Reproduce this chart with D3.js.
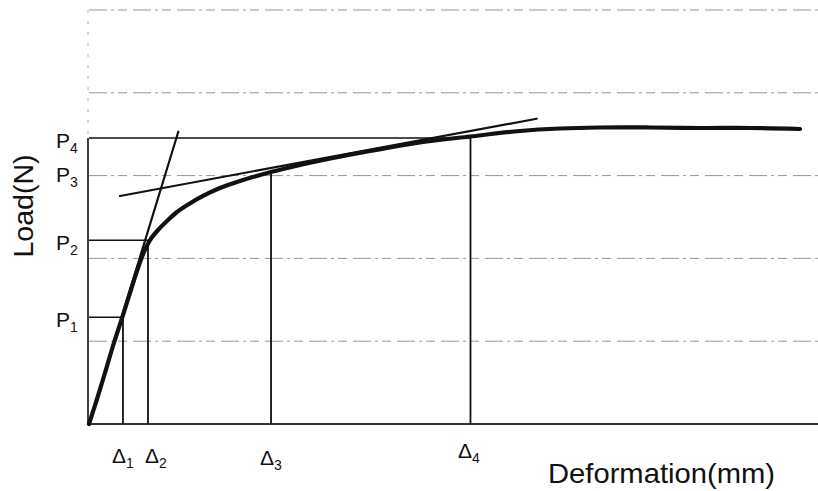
<!DOCTYPE html>
<html>
<head>
<meta charset="utf-8">
<script src="https://cdn.jsdelivr.net/npm/d3@7"></script>
<style>
  html, body { margin: 0; padding: 0; background: #fff; }
  svg { display: block; }
  text { font-family: "Liberation Sans", Arial, Helvetica, sans-serif; fill: #111; }
</style>
</head>
<body>
<svg id="chart" width="818" height="491"></svg>
<script>
// ---------------- DATA ----------------
// Load-deformation curve (deformation, load) in arbitrary chart units
const curveX = [0, 1.10, 2.19, 3.29, 4.53, 5.62, 6.72, 7.54, 8.37, 9.47, 10.70, 12.07, 13.72, 15.64, 17.97, 20.71, 24.97, 28.94, 33.47, 38.55, 45.40, 52.26, 59.12, 64.61, 70.10, 76.95, 83.81, 90.67, 97.53];
const curveY = [0, 0.302, 0.616, 0.942, 1.280, 1.582, 1.884, 2.077, 2.222, 2.343, 2.452, 2.560, 2.657, 2.754, 2.850, 2.935, 3.043, 3.128, 3.213, 3.297, 3.400, 3.472, 3.539, 3.569, 3.581, 3.581, 3.575, 3.575, 3.563];
// Tangent lines [x0, y0, x1, y1]
const tangent1 = [0, 0, 12.25, 3.53];
const tangent2 = [4.25, 2.754, 61.41, 3.687];
// Characteristic points
const pointLabels = ["1", "2", "3", "4"];
const deltaValues = [4.66, 8.09, 24.97, 52.33];
const loadValues = [1.29, 2.22, 3.05, 3.454];
// Gridline values (load)
const gridValues = [1, 2, 3, 4, 5];
const xTitle = "Deformation(mm)";
const yTitle = "Load(N)";

// ---------------- LAYOUT ----------------
const svg = d3.select("#chart");
const x = d3.scaleLinear().domain([0, 100]).range([89, 818]);
const y = d3.scaleLinear().domain([0, 5]).range([424, 10]);

const gridColor = "#959595";
const ink = "#111";

// gridlines (dash-dot, grey)
svg.append("g").selectAll("line").data(gridValues).join("line")
  .attr("x1", x(0)).attr("x2", x(100))
  .attr("y1", d => y(d)).attr("y2", d => y(d))
  .attr("stroke", gridColor).attr("stroke-width", 1)
  .attr("stroke-dasharray", "18,4,3,4,9,6");

// left axis: dashed above P4, solid below
const pTop = loadValues[3];
svg.append("line")
  .attr("x1", x(0) - 1).attr("x2", x(0) - 1)
  .attr("y1", y(5)).attr("y2", y(pTop))
  .attr("stroke", "#b0b0b0").attr("stroke-width", 1)
  .attr("stroke-dasharray", "3,8");
svg.append("line")
  .attr("x1", x(0) - 1).attr("x2", x(0) - 1)
  .attr("y1", y(pTop)).attr("y2", y(0))
  .attr("stroke", ink).attr("stroke-width", 1.6);

// bottom axis
svg.append("line")
  .attr("x1", x(0) - 1).attr("x2", x(100))
  .attr("y1", y(0)).attr("y2", y(0))
  .attr("stroke", "#333").attr("stroke-width", 2);

// horizontal P lines (P1, P2, P4) and vertical delta lines
const pts = deltaValues.map((d, i) => ({ dx: d, py: loadValues[i], k: pointLabels[i] }));
svg.append("g").selectAll("line").data(pts.filter(p => p.k !== "3")).join("line")
  .attr("x1", x(0)).attr("x2", p => x(p.dx))
  .attr("y1", p => y(p.py)).attr("y2", p => y(p.py))
  .attr("stroke", ink).attr("stroke-width", 1.4);
svg.append("g").selectAll("line").data(pts).join("line")
  .attr("x1", p => x(p.dx)).attr("x2", p => x(p.dx))
  .attr("y1", p => y(p.py)).attr("y2", y(0))
  .attr("stroke", ink).attr("stroke-width", 1.8);

// tangent lines
[tangent1, tangent2].forEach(t => {
  svg.append("line")
    .attr("x1", x(t[0])).attr("y1", y(t[1]))
    .attr("x2", x(t[2])).attr("y2", y(t[3]))
    .attr("stroke", ink).attr("stroke-width", 2.2)
    .attr("stroke-linecap", "round");
});

// main curve
const curveData = curveX.map((d, i) => [d, curveY[i]]);
svg.append("path")
  .datum(curveData)
  .attr("d", d3.line().x(d => x(d[0])).y(d => y(d[1])).curve(d3.curveCatmullRom.alpha(0.5)))
  .attr("fill", "none").attr("stroke", ink).attr("stroke-width", 4.2)
  .attr("stroke-linecap", "round").attr("stroke-linejoin", "round");

// P labels
const pLabelBaselineOffset = [10, 10, 11, 10];
pts.forEach((p, i) => {
  const t = svg.append("text")
    .attr("x", 56).attr("y", y(p.py) + pLabelBaselineOffset[i])
    .attr("font-size", 21);
  t.append("tspan").text("P");
  t.append("tspan").attr("font-size", 14).attr("dy", 5).text(p.k);
});

// Delta labels
const dLabelDx = [-11, -3, -11, -12.5];
const dLabelY = [463, 463, 465, 458];
pts.forEach((p, i) => {
  const t = svg.append("text")
    .attr("x", x(p.dx) + dLabelDx[i]).attr("y", dLabelY[i])
    .attr("font-size", 21);
  t.append("tspan").text("\u0394");
  t.append("tspan").attr("font-size", 14).attr("dy", 5).text(p.k);
});

// axis titles
svg.append("text")
  .attr("x", 548).attr("y", 483)
  .attr("font-size", 28)
  .attr("textLength", 227).attr("lengthAdjust", "spacingAndGlyphs")
  .text(xTitle);
svg.append("text")
  .attr("transform", "translate(33,206) rotate(-90)")
  .attr("text-anchor", "middle")
  .attr("font-size", 28)
  .attr("textLength", 103).attr("lengthAdjust", "spacingAndGlyphs")
  .text(yTitle);
</script>
</body>
</html>
